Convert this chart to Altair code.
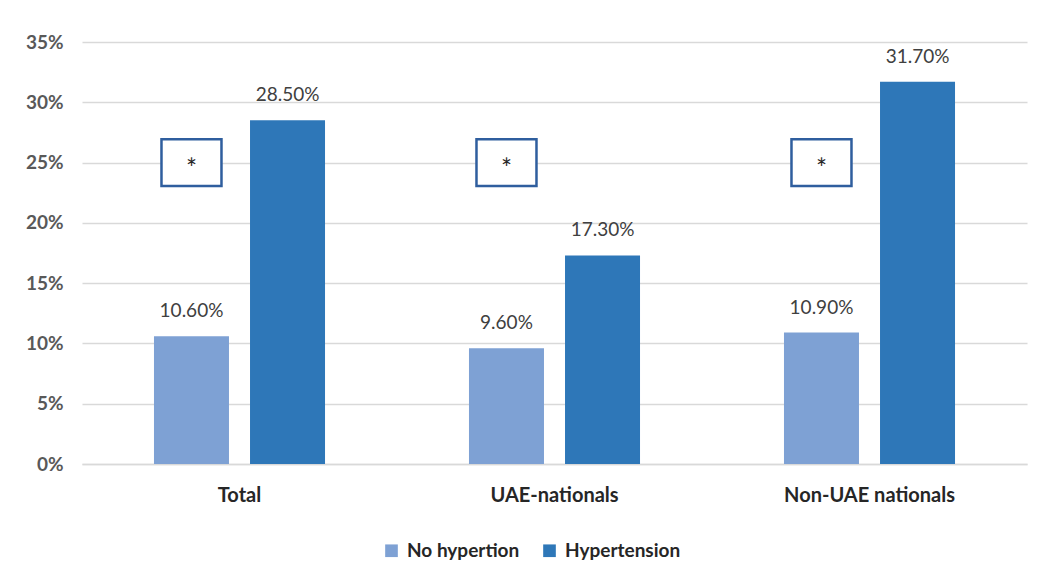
import altair as alt
import pandas as pd

categories = ["Total", "UAE-nationals", "Non-UAE nationals"]
groups = ["No hypertion", "Hypertension"]
no_hyp = [0.106, 0.096, 0.109]
hyp = [0.285, 0.173, 0.317]
sig_marks = ["*", "*", "*"]
sig_level = [0.25, 0.25, 0.25]
colors = ["#7EA1D4", "#2E77B8"]

rows = []
for c, a, b in zip(categories, no_hyp, hyp):
    rows.append({"cat": c, "grp": groups[0], "val": a})
    rows.append({"cat": c, "grp": groups[1], "val": b})
df = pd.DataFrame(rows)
sig = pd.DataFrame({"cat": categories, "grp": [groups[0]] * 3, "val": sig_level, "mark": sig_marks})

FONT = "Lato"

x = alt.X("cat:N", sort=categories, title=None,
          scale=alt.Scale(paddingInner=0.457, paddingOuter=0.2285),
          axis=alt.Axis(labelAngle=0, labelFontSize=20, labelFontWeight="bold",
                        labelColor="#262626", labelPadding=21, ticks=False, grid=False,
                        domainColor="#d9d9d9", domainWidth=1.5, labelFont=FONT))
xo = alt.XOffset("grp:N", sort=groups,
                 scale=alt.Scale(domain=groups, paddingInner=0.219, paddingOuter=0))
y = alt.Y("val:Q", title=None,
          scale=alt.Scale(domain=[0, 0.35]),
          axis=alt.Axis(format=".0%", values=[0, 0.05, 0.1, 0.15, 0.2, 0.25, 0.3, 0.35],
                        labelFontSize=19, labelFontWeight="bold", labelColor="#595959",
                        labelPadding=19, ticks=False, domain=False,
                        gridColor="#d9d9d9", gridWidth=1.5, labelFont=FONT))

bars = alt.Chart(df).mark_bar().encode(
    x=x, xOffset=xo, y=y,
    color=alt.Color("grp:N", sort=groups,
                    scale=alt.Scale(domain=groups, range=colors),
                    legend=alt.Legend(title=None, orient="none", direction="horizontal",
                                      legendX=300, legendY=499, symbolType="square",
                                      symbolSize=160, labelFontSize=19, labelFontWeight="bold",
                                      labelColor="#262626", labelFont=FONT,
                                      columnPadding=20, labelOffset=6)),
)

labels = alt.Chart(df).mark_text(baseline="bottom", dy=-15, fontSize=19,
                                 color="#404040", font=FONT).encode(
    x=x, xOffset=xo, y=y,
    text=alt.Text("val:Q", format=".2%"),
)

box_shape = "M-1,-0.78L1,-0.78L1,0.78L-1,0.78Z"
boxes = alt.Chart(sig).mark_point(shape=box_shape, size=3600, filled=False,
                                  fill="white", fillOpacity=1, stroke="#2F5E9E",
                                  strokeWidth=2.5, opacity=1).encode(
    x=x, xOffset=xo, y=y,
)
stars = alt.Chart(sig).mark_text(fontSize=26, color="#262626", font=FONT, dy=7).encode(
    x=x, xOffset=xo, y=y, text="mark:N",
)

chart = alt.layer(bars, labels, boxes, stars).properties(
    width=945, height=422,
    background="white",
    autosize=alt.AutoSizeParams(type="none"),
    padding={"left": 82, "top": 42, "right": 14, "bottom": 118},
).configure_view(strokeWidth=0, stroke="transparent")

chart.save("out.html", embed_options={"renderer": "svg", "actions": False})
